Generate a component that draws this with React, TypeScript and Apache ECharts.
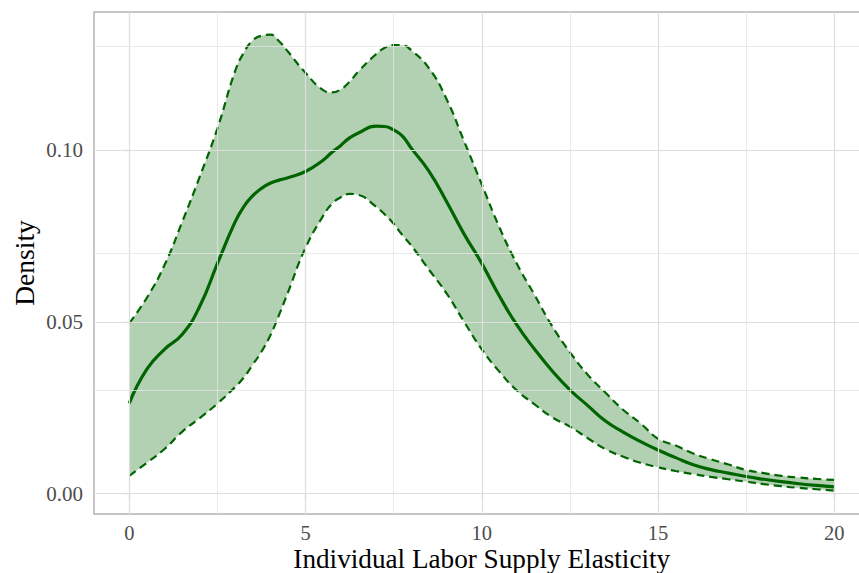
import React, { useEffect, useRef } from "react";
import * as echarts from "echarts";

const xs = [0, 0.5, 1, 1.5, 2, 2.5, 3, 3.25, 3.5, 3.75, 4, 4.25, 4.5, 5, 5.5, 5.75, 6, 6.25, 6.5, 7, 7.25, 7.5, 7.75, 8, 8.5, 9, 9.5, 10, 10.5, 11, 11.5, 12, 12.5, 13, 13.5, 14, 14.5, 15, 15.5, 16, 16.5, 17, 17.5, 18, 18.5, 19, 19.5, 20];

const meanDensity = [0.0263, 0.0362, 0.042, 0.0463, 0.0545, 0.0669, 0.079, 0.0835, 0.0866, 0.0888, 0.0903, 0.0912, 0.0919, 0.0937, 0.097, 0.0993, 0.1013, 0.1035, 0.1049, 0.1069, 0.1068, 0.1058, 0.104, 0.1005, 0.0938, 0.085, 0.0755, 0.067, 0.0575, 0.049, 0.042, 0.0357, 0.0302, 0.0257, 0.0212, 0.018, 0.0152, 0.0127, 0.0105, 0.0084, 0.007, 0.006, 0.005, 0.0042, 0.0035, 0.0029, 0.0024, 0.002];

const upperBound = [0.0496, 0.057, 0.0665, 0.079, 0.0922, 0.1062, 0.1228, 0.1283, 0.1318, 0.1332, 0.1335, 0.1316, 0.1286, 0.1224, 0.1174, 0.1167, 0.1176, 0.1198, 0.1228, 0.1278, 0.1297, 0.1305, 0.1304, 0.129, 0.1238, 0.1148, 0.1025, 0.09, 0.0775, 0.0668, 0.0578, 0.0487, 0.0412, 0.0347, 0.0295, 0.0245, 0.0205, 0.016, 0.014, 0.0117, 0.01, 0.0085, 0.0069, 0.006, 0.0052, 0.0047, 0.0043, 0.004];

const lowerBound = [0.0052, 0.009, 0.013, 0.018, 0.022, 0.0262, 0.031, 0.0338, 0.0375, 0.0413, 0.046, 0.052, 0.0585, 0.0715, 0.0808, 0.0843, 0.0862, 0.0872, 0.0869, 0.0835, 0.0812, 0.0785, 0.0752, 0.0722, 0.0652, 0.0583, 0.05, 0.042, 0.0355, 0.03, 0.026, 0.0222, 0.0195, 0.0162, 0.013, 0.0108, 0.009, 0.0077, 0.0066, 0.0057, 0.0049, 0.0042, 0.0035, 0.0028, 0.0022, 0.0017, 0.0013, 0.0009];

const xTicks = [0, 5, 10, 15, 20];
const xMinorTicks = [2.5, 7.5, 12.5, 17.5];
const yTicks = [0, 0.05, 0.1];
const yMinorTicks = [0.025, 0.075, 0.125];

const GREEN = "#006400";
const FONT = "Liberation Serif";
const SMOOTH = 0.5;

// Same bezier construction ECharts uses for `smooth: true` line series,
// so the band edges coincide with the dashed bound lines.
function smoothSegment(pts: number[][], start: "M" | "L"): string {
  let d = "";
  let prevX = 0, prevY = 0, cpx0 = 0, cpy0 = 0;
  const n = pts.length;
  for (let idx = 0; idx < n; idx++) {
    const x = pts[idx][0];
    const y = pts[idx][1];
    if (idx === 0) {
      d += `${start}${x} ${y}`;
      cpx0 = x;
      cpy0 = y;
    } else {
      let cpx1: number, cpy1: number, nextCpx0 = x, nextCpy0 = y;
      if (idx + 1 >= n) {
        cpx1 = x;
        cpy1 = y;
      } else {
        const nextX = pts[idx + 1][0];
        const nextY = pts[idx + 1][1];
        let vx = nextX - prevX;
        let vy = nextY - prevY;
        const dx0 = x - prevX, dx1 = nextX - x, dy0 = y - prevY, dy1 = nextY - y;
        const lenPrev = Math.sqrt(dx0 * dx0 + dy0 * dy0);
        const lenNext = Math.sqrt(dx1 * dx1 + dy1 * dy1);
        const ratio = lenNext / (lenNext + lenPrev);
        nextCpx0 = x + vx * SMOOTH * ratio;
        nextCpy0 = y + vy * SMOOTH * ratio;
        nextCpx0 = Math.min(nextCpx0, Math.max(nextX, x));
        nextCpy0 = Math.min(nextCpy0, Math.max(nextY, y));
        nextCpx0 = Math.max(nextCpx0, Math.min(nextX, x));
        nextCpy0 = Math.max(nextCpy0, Math.min(nextY, y));
        vx = nextCpx0 - x;
        vy = nextCpy0 - y;
        cpx1 = x - (vx * lenPrev) / lenNext;
        cpy1 = y - (vy * lenPrev) / lenNext;
        cpx1 = Math.min(cpx1, Math.max(prevX, x));
        cpy1 = Math.min(cpy1, Math.max(prevY, y));
        cpx1 = Math.max(cpx1, Math.min(prevX, x));
        cpy1 = Math.max(cpy1, Math.min(prevY, y));
        vx = x - cpx1;
        vy = y - cpy1;
        nextCpx0 = x + (vx * lenNext) / lenPrev;
        nextCpy0 = y + (vy * lenNext) / lenPrev;
      }
      d += `C${cpx0} ${cpy0} ${cpx1} ${cpy1} ${x} ${y}`;
      cpx0 = nextCpx0;
      cpy0 = nextCpy0;
    }
    prevX = x;
    prevY = y;
  }
  return d;
}

export default function App() {
  const ref = useRef<HTMLDivElement>(null);

  useEffect(() => {
    if (!ref.current) return;
    const chart = echarts.init(ref.current, null, { renderer: "svg" });

    const pairs = (ys: number[]) => xs.map((x, i) => [x, ys[i]]);
    const bandData = xs.map((x, i) => [x, lowerBound[i], upperBound[i]]);

    const gridLines = [
      ...xTicks.map((v) => ({ xAxis: v, lineStyle: { color: "#dedede", width: 1.2, type: "solid" } })),
      ...xMinorTicks.map((v) => ({ xAxis: v, lineStyle: { color: "#e4e4e4", width: 0.8, type: "solid" } })),
      ...yTicks.map((v) => ({ yAxis: v, lineStyle: { color: "#dedede", width: 1.2, type: "solid" } })),
      ...yMinorTicks.map((v) => ({ yAxis: v, lineStyle: { color: "#e4e4e4", width: 0.8, type: "solid" } })),
    ];

    chart.setOption({
      animation: false,
      backgroundColor: "#ffffff",
      grid: {
        left: 94,
        top: 12,
        width: 775.5,
        height: 502,
        containLabel: false,
        outerBoundsMode: "none",
        show: true,
        borderColor: "#b3b3b3",
        borderWidth: 1.5,
        backgroundColor: "transparent",
      },
      xAxis: {
        type: "value",
        min: -1,
        max: 21,
        name: "Individual Labor Supply Elasticity",
        nameLocation: "middle",
        nameGap: 32,
        nameMoveOverlap: false,
        nameTextStyle: { fontFamily: FONT, fontSize: 27.2, lineHeight: 26, color: "#000000" },
        axisLine: { show: false },
        axisTick: { show: true, length: 6, customValues: xTicks, lineStyle: { color: "#b3b3b3", width: 1.2 } },
        axisLabel: { customValues: xTicks, margin: 9, lineHeight: 19, fontFamily: FONT, fontSize: 20.5, color: "#4d4d4d" },
        splitLine: { show: false },
        minorSplitLine: { show: false },
      },
      yAxis: {
        type: "value",
        min: -0.0059,
        max: 0.1401,
        name: "Density",
        nameLocation: "middle",
        nameRotate: 90,
        nameGap: 56,
        nameMoveOverlap: false,
        nameTextStyle: { fontFamily: FONT, fontSize: 27.5, color: "#000000" },
        axisLine: { show: false },
        axisTick: { show: true, length: 6, customValues: yTicks, lineStyle: { color: "#b3b3b3", width: 1.2 } },
        axisLabel: {
          customValues: yTicks,
          margin: 11,
          fontFamily: FONT,
          fontSize: 21,
          color: "#4d4d4d",
          formatter: (v: number) => v.toFixed(2),
        },
        splitLine: { show: false },
        minorSplitLine: { show: false },
      },
      series: [
        {
          name: "grid",
          type: "line",
          data: [],
          z: 1,
          silent: true,
          markLine: {
            silent: true,
            symbol: ["none", "none"],
            label: { show: false },
            animation: false,
            data: gridLines,
          },
        },
        {
          name: "band",
          type: "custom",
          data: bandData,
          encode: { x: 0, y: [1, 2] },
          z: 2,
          silent: true,
          renderItem: (params: any, api: any) => {
            if (params.dataIndex !== 0) return null;
            const up = xs.map((x, i) => api.coord([x, upperBound[i]]));
            const lo = xs.map((x, i) => api.coord([x, lowerBound[i]])).reverse();
            const d = smoothSegment(up, "M") + smoothSegment(lo, "L") + "Z";
            return {
              type: "path",
              shape: { pathData: d },
              style: { fill: "rgba(0,100,0,0.3)", stroke: "none" },
            };
          },
        },
        {
          name: "upper",
          type: "line",
          data: pairs(upperBound),
          smooth: true,
          showSymbol: false,
          symbol: "none",
          lineStyle: { color: GREEN, width: 2.2, type: [8, 5] },
          z: 3,
        },
        {
          name: "lower",
          type: "line",
          data: pairs(lowerBound),
          smooth: true,
          showSymbol: false,
          symbol: "none",
          lineStyle: { color: GREEN, width: 2.2, type: [8, 5] },
          z: 3,
        },
        {
          name: "mean",
          type: "line",
          data: pairs(meanDensity),
          smooth: true,
          showSymbol: false,
          symbol: "none",
          lineStyle: { color: GREEN, width: 3.2 },
          z: 4,
        },
      ],
    });

    return () => chart.dispose();
  }, []);

  return (
    <div
      ref={ref}
      style={{ position: "fixed", left: 0, top: 0, width: 859, height: 573, background: "#fff" }}
    />
  );
}
